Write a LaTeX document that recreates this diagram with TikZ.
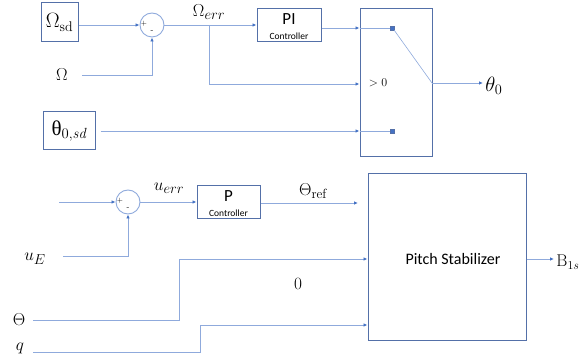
\documentclass[tikz,border=0pt]{standalone}
\usepackage{fontspec}
\setsansfont{Carlito}
\newfontfamily\grk{Liberation Serif}
\usetikzlibrary{arrows.meta}
\definecolor{lineblue}{RGB}{143,170,220}
\definecolor{tipblue}{RGB}{68,114,196}
\definecolor{boxblue}{RGB}{84,112,168}
\tikzset{
  sig/.style={draw=lineblue, line width=0.9pt},
  arr/.style={sig, -{Latex[length=4pt,width=3.5pt,color=tipblue]}},
  blk/.style={draw=boxblue, line width=1pt, rectangle, inner sep=0pt},
  sumc/.style={draw=lineblue, line width=0.9pt, circle, minimum size=24pt, inner sep=0pt},
  lbl/.style={inner sep=0pt, font=\fontsize{19}{21}\selectfont},
  term/.style={fill=tipblue, draw=boxblue, minimum size=4pt, inner sep=0pt, rectangle},
}
\begin{document}
\begin{tikzpicture}[x=1pt,y=-1pt]
\useasboundingbox (0,0) rectangle (587,358);
% ---------- top part ----------
\node[blk, minimum width=37pt, minimum height=39pt] (osd) at (59.5,22.5) {\fontsize{20}{22}\selectfont$\Omega_{\mathrm{sd}}$};
\node[sumc] (s1) at (152,25) {};
\node[font=\fontsize{7}{7}\selectfont, inner sep=0pt] (s1p) at (144,24) {+};
\node[font=\fontsize{8}{8}\selectfont, inner sep=0pt] (s1m) at (152,32) {-};
\node[lbl] (om) at (62,75) {$\Omega$};
\coordinate (omS) at (82,75);
\node[lbl] (omerr) at (209,12) {$\Omega_{err}$};
\node[blk, minimum width=64pt, minimum height=33pt] (pi) at (289,25.5) {};
\node[inner sep=0pt, font=\sffamily\fontsize{17}{17}\selectfont] (pit) at (289,19) {PI};
\node[inner sep=0pt, font=\sffamily\fontsize{9.5}{10}\selectfont] (pic) at (289,36.5) {Controller};
\node[blk, minimum width=72pt, minimum height=148pt] (sw) at (396,83) {};
\node[blk, minimum width=52pt, minimum height=38pt] (t0sd) at (69,131) {\fontsize{21}{23}\grk θ$_{\mathrm{0,}\mathit{sd}}$};
\node[term] (k1) at (392,28) {};
\node[term] (k2) at (392,131) {};
\coordinate (piv) at (432,83);
\coordinate (br) at (209,25);
\coordinate (brd) at (209,84);
\node[inner sep=0pt, font=\fontsize{12}{12}\selectfont] (gt) at (378,83) {$>0$};
\node[lbl, font=\fontsize{20}{22}\selectfont] (th0) at (494,86) {$\theta_0$};
\coordinate (th0e) at (483,83);

\draw[arr] (osd.east |- s1.west) -- (s1.west);
\draw[arr] (omS) -| (s1.south);
\draw[arr] (s1.east) -- (pi.west |- s1.east);
\draw[sig] (br) -- (brd);
\draw[arr] (brd) -- (sw.west |- brd);
\draw[arr] (pi.east |- k1) -- (sw.west |- k1);
\draw[sig] (sw.west |- k1) -- (k1.west);
\draw[arr] ([xshift=5pt]t0sd.east) -- (sw.west |- k2);
\draw[sig] (sw.west |- k2) -- (k2.west);
\draw[sig, line width=0.6pt] (k1.south east) -- (piv);
\draw[arr] (piv) -- (th0e);
% ---------- bottom part ----------
\node[sumc] (s2) at (128,202) {};
\node[font=\fontsize{7}{7}\selectfont, inner sep=0pt] (s2p) at (120,201) {+};
\node[font=\fontsize{8}{8}\selectfont, inner sep=0pt] (s2m) at (128,209) {-};
\coordinate (in2) at (59,202);
\node[lbl] (ue) at (35,259) {$u_E$};
\coordinate (ueS) at (63,256);
\node[lbl] (uerr) at (169,188) {$u_{err}$};
\node[blk, minimum width=63pt, minimum height=33pt] (pb) at (228.5,202.5) {};
\node[inner sep=0pt, font=\sffamily\fontsize{17}{17}\selectfont] (pbt) at (228.5,196) {P};
\node[inner sep=0pt, font=\sffamily\fontsize{9.5}{10}\selectfont] (pbc) at (228.5,213.5) {Controller};
\node[lbl] (thref) at (313,191) {$\Theta_{\mathrm{ref}}$};
\coordinate (threfE) at (358,203);
\node[blk, minimum width=158pt, minimum height=167pt] (ps) at (447,257.5) {};
\node[inner sep=0pt, font=\sffamily\fontsize{16}{18}\selectfont] (pst) at (453,259) {Pitch Stabilizer};
\node[lbl] (Th) at (19,320) {$\Theta$};
\coordinate (ThS) at (33,320);
\coordinate (ThK) at (179,259);
\node[lbl] (q) at (20,348) {$q$};
\coordinate (qS) at (33,352);
\coordinate (qK) at (200,325);
\node[lbl, font=\fontsize{17}{19}\selectfont] (zero) at (298,284) {$0$};
\node[lbl, font=\fontsize{17}{19}\selectfont] (b1s) at (568,262) {$\mathrm{B}_{1s}$};
\coordinate (b1e) at (554,259);

\draw[arr] (in2) -- (s2.west);
\draw[arr] (ueS) -| (s2.south);
\draw[arr] (s2.east) -- (pb.west |- s2.east);
\draw[arr] (pb.east |- threfE) -- (threfE);
\draw[arr] (ThS) -| (ThK) -- (ps.west |- ThK);
\draw[arr] (qS) -| (qK) -- (ps.west |- qK);
\draw[arr] (ps.east |- b1e) -- (b1e);
\end{tikzpicture}
\end{document}
